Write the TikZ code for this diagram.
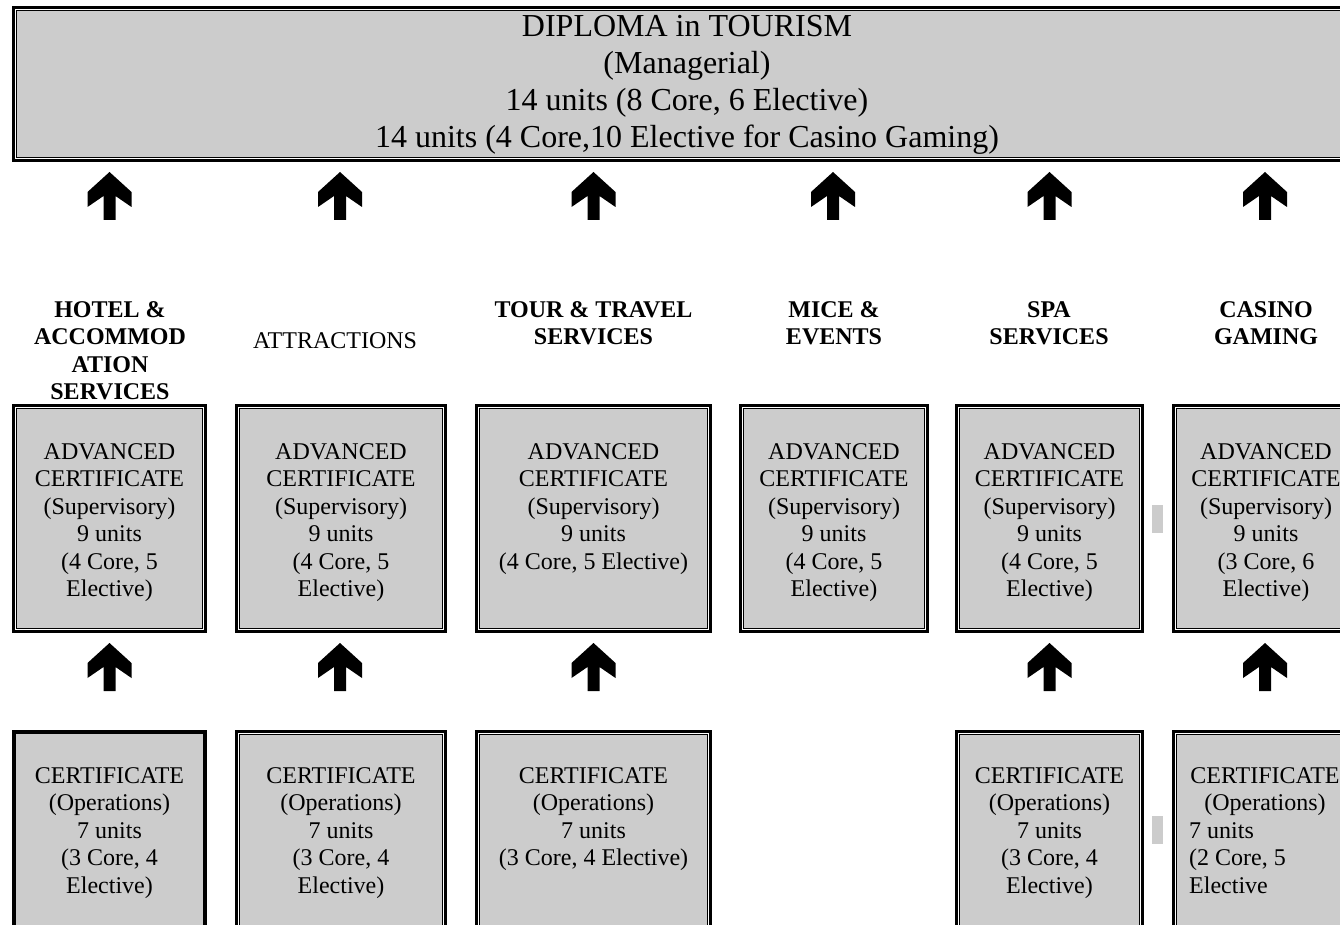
\documentclass[tikz,border=0pt]{standalone}
\usepackage{fontspec}
\setmainfont{Liberation Serif}
\usetikzlibrary{calc}
\definecolor{boxgray}{RGB}{204,204,204}
\tikzset{
  cellbox/.style={draw=black, fill=boxgray, line width=2.7pt, inner sep=0pt, rectangle},
  gapline/.style={draw=white, line width=1.7pt},
  innerline/.style={draw=black, line width=1pt},
  txt/.style={font=\fontsize{24}{27.5}\selectfont, align=center, inner sep=0pt, anchor=north, text=black},
  lbl/.style={txt, font=\fontsize{24}{27.5}\selectfont\bfseries},
  bigtxt/.style={font=\fontsize{32}{37}\selectfont, align=center, inner sep=0pt, text=black},
  uparr/.pic={\fill[black] (0,0) -- (22,20) -- (22,35) -- (6,24) -- (6,48) -- (-6,48) -- (-6,24) -- (-22,35) -- (-22,20) -- cycle;}
}
% name, x1, y1, x2, y2 (outer edges, pixel coordinates)
\newcommand\mybox[5]{%
  \node[cellbox, minimum width={#4-#2-2.7}, minimum height={#5-#3-2.7}] (#1) at ({(#2+#4)/2},{(#3+#5)/2}) {};
  \draw[gapline] ([shift={(3.55,3.55)}]#1.north west) rectangle ([shift={(-3.55,-3.55)}]#1.south east);
  \draw[innerline] ([shift={(4.9,4.9)}]#1.north west) rectangle ([shift={(-4.9,-4.9)}]#1.south east);
}
\begin{document}
\begin{tikzpicture}[x=1pt,y=-1pt]
\useasboundingbox (0,0) rectangle (1340,925);
\clip (0,0) rectangle (1340,925);

% top box
\mybox{diploma}{12}{6}{1362}{162}
\node[bigtxt] (diplomat) at (687,84.5) {DIPLOMA in TOURISM\\(Managerial)\\14 units (8 Core, 6 Elective)\\14 units (4 Core,10 Elective for Casino Gaming)};

% advanced certificate boxes
\mybox{adv1}{12}{404}{207}{633}
\mybox{adv2}{235}{404}{447}{633}
\mybox{adv3}{475}{404}{712}{633}
\mybox{adv4}{739}{404}{929}{633}
\mybox{adv5}{955}{404}{1144}{633}
\mybox{adv6}{1172}{404}{1360}{633}

% certificate boxes
\node[cellbox, line width=4pt, minimum width={195-4}, minimum height={210-4}] (cert1) at (109.5,835) {};
\mybox{cert2}{235}{730}{447}{940}
\mybox{cert3}{475}{730}{712}{940}
\mybox{cert5}{955}{730}{1144}{940}
\mybox{cert6}{1172}{730}{1360}{940}

% small grey marks
\fill[boxgray] (1152,505) rectangle (1163,533);
\fill[boxgray] (1152,816) rectangle (1163,844);

% column labels
\node[lbl] (lab1) at (110,301) {HOTEL \&\\ACCOMMOD\\ATION\\SERVICES};
\node[txt] (lab2) at (335,332) {ATTRACTIONS};
\node[lbl] (lab3) at (593.5,301) {TOUR \& TRAVEL\\SERVICES};
\node[lbl] (lab4) at (834,301) {MICE \&\\EVENTS};
\node[lbl] (lab5) at (1049,301) {SPA\\SERVICES};
\node[lbl] (lab6) at (1266,301) {CASINO\\GAMING};

% advanced texts
\node[txt] (adv1t) at (adv1.north |- 0,443) {ADVANCED\\CERTIFICATE\\(Supervisory)\\9 units\\(4 Core, 5\\Elective)};
\node[txt] (adv2t) at (adv2.north |- 0,443) {ADVANCED\\CERTIFICATE\\(Supervisory)\\9 units\\(4 Core, 5\\Elective)};
\node[txt] (adv3t) at (adv3.north |- 0,443) {ADVANCED\\CERTIFICATE\\(Supervisory)\\9 units\\(4 Core, 5 Elective)};
\node[txt] (adv4t) at (adv4.north |- 0,443) {ADVANCED\\CERTIFICATE\\(Supervisory)\\9 units\\(4 Core, 5\\Elective)};
\node[txt] (adv5t) at (adv5.north |- 0,443) {ADVANCED\\CERTIFICATE\\(Supervisory)\\9 units\\(4 Core, 5\\Elective)};
\node[txt] (adv6t) at (adv6.north |- 0,443) {ADVANCED\\CERTIFICATE\\(Supervisory)\\9 units\\(3 Core, 6\\Elective)};

% certificate texts
\node[txt] (cert1t) at (cert1.north |- 0,767) {CERTIFICATE\\(Operations)\\7 units\\(3 Core, 4\\Elective)};
\node[txt] (cert2t) at (cert2.north |- 0,767) {CERTIFICATE\\(Operations)\\7 units\\(3 Core, 4\\Elective)};
\node[txt] (cert3t) at (cert3.north |- 0,767) {CERTIFICATE\\(Operations)\\7 units\\(3 Core, 4 Elective)};
\node[txt] (cert5t) at (cert5.north |- 0,767) {CERTIFICATE\\(Operations)\\7 units\\(3 Core, 4\\Elective)};
\node[txt] (cert6t) at (1265,767) {CERTIFICATE\\(Operations)};
\node[txt, anchor=north west, align=left] (cert6u) at (1189,822) {7 units\\(2 Core, 5\\Elective};

% arrows
\pic at ($(adv1.north |- diploma.south)+(0,10)$) {uparr};
\pic at ($(adv2.north |- diploma.south)+(-1,10)$) {uparr};
\pic at ($(adv3.north |- diploma.south)+(0,10)$) {uparr};
\pic at ($(adv4.north |- diploma.south)+(-1,10)$) {uparr};
\pic at ($(adv5.north |- diploma.south)+(0,10)$) {uparr};
\pic at ($(adv6.north |- diploma.south)+(-1,10)$) {uparr};

\pic at ($(adv1.south)+(0,10)$) {uparr};
\pic at ($(adv2.south)+(-1,10)$) {uparr};
\pic at ($(adv3.south)+(0,10)$) {uparr};
\pic at ($(adv5.south)+(0,10)$) {uparr};
\pic at ($(adv6.south)+(-1,10)$) {uparr};
\end{tikzpicture}
\end{document}
